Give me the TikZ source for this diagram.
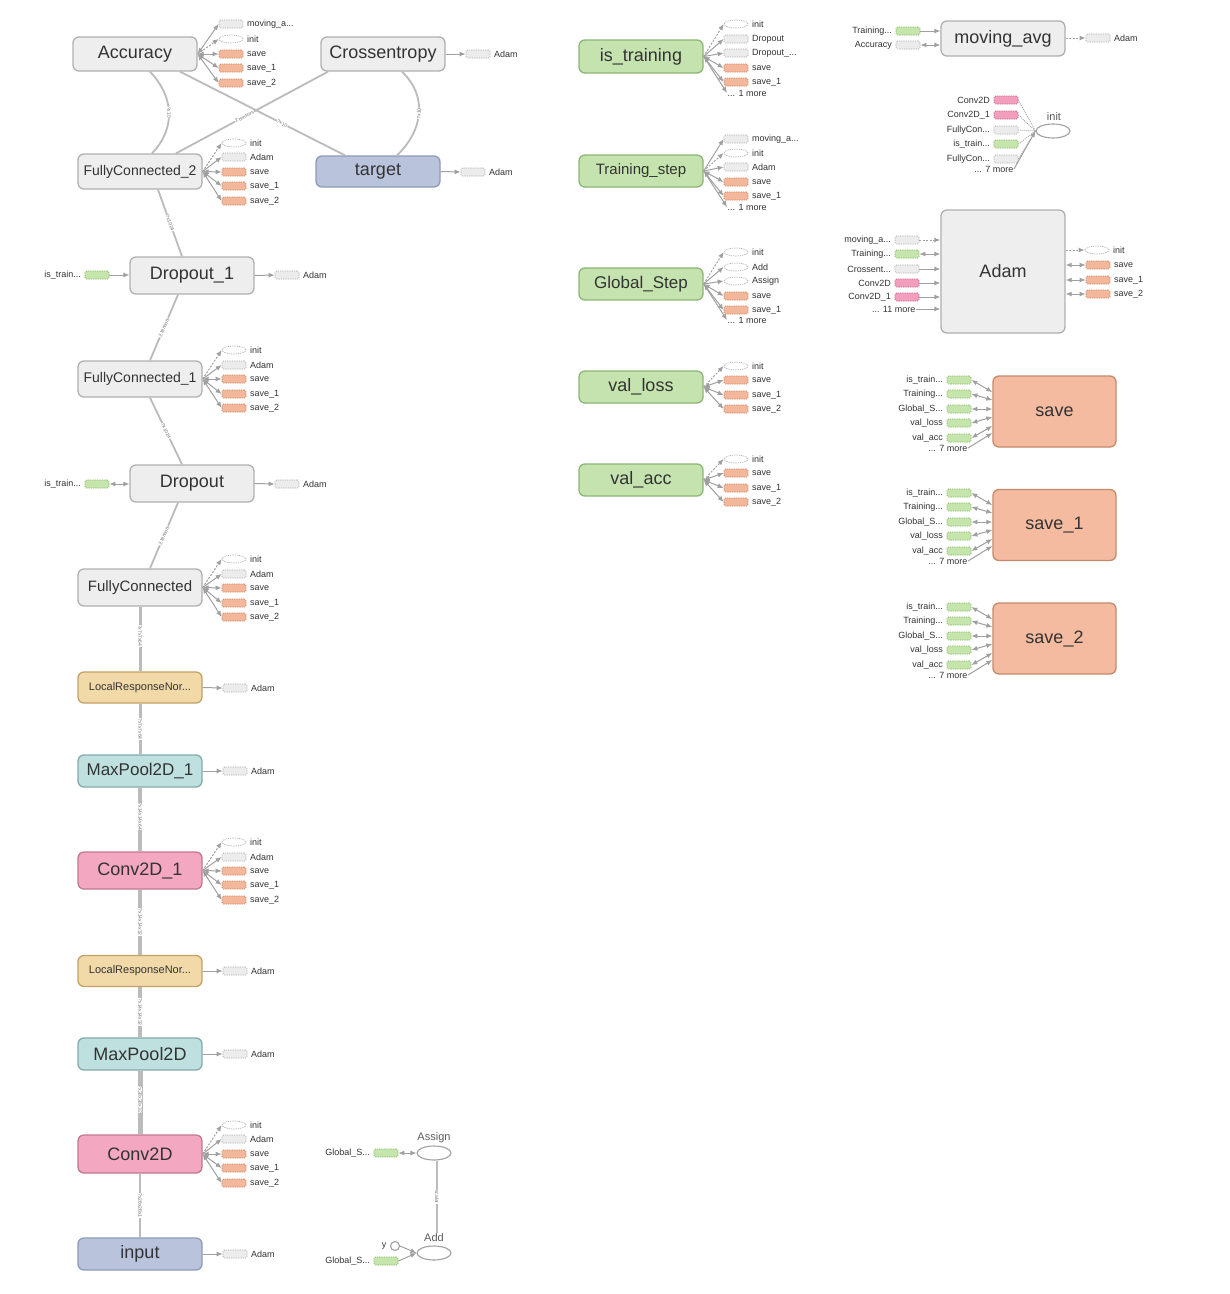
\documentclass[tikz,border=0pt]{standalone}
\usepackage{fontspec}
\setmainfont{Liberation Sans}
\usetikzlibrary{arrows.meta,shapes.geometric,calc}
\definecolor{ngray}{HTML}{EEEEEE}
\definecolor{bgray}{HTML}{B0B0B0}
\definecolor{nblue}{HTML}{B9C3DC}
\definecolor{bblue}{HTML}{8E9AB8}
\definecolor{ngreen}{HTML}{C5E3AE}
\definecolor{bgreen}{HTML}{8DB575}
\definecolor{nlrn}{HTML}{F2D9A8}
\definecolor{blrn}{HTML}{C2A266}
\definecolor{npool}{HTML}{BEE0DF}
\definecolor{bpool}{HTML}{84AAA9}
\definecolor{nconv}{HTML}{F3A7C1}
\definecolor{bconv}{HTML}{C27892}
\definecolor{nsave}{HTML}{F4BBA0}
\definecolor{bsave}{HTML}{C58A6C}
\definecolor{sgray}{HTML}{ECECEC}
\definecolor{sgrayb}{HTML}{B0B0B0}
\definecolor{ssal}{HTML}{F3B89B}
\definecolor{ssalb}{HTML}{D0825E}
\definecolor{sgr}{HTML}{C6E5AD}
\definecolor{sgrb}{HTML}{84B860}
\definecolor{spk}{HTML}{F29FBD}
\definecolor{spkb}{HTML}{D05F88}
\definecolor{txt}{HTML}{333333}
\definecolor{arrc}{HTML}{A0A0A0}
\definecolor{edgec}{HTML}{BBBBBB}
\newcount\sc
\newcommand{\annR}[6]{%
  \global\advance\sc by 1
  \node[#2] (s\the\sc) at (#4,#5) {};
  \node[lbl,anchor=west] (t\the\sc) at ([xshift=3pt]s\the\sc.east) {#6};
  \draw[#3] (#1.east) -- (s\the\sc.west);}
\newcommand{\annRH}[6]{%
  \global\advance\sc by 1
  \node[#2] (s\the\sc) at (#4,#5) {};
  \node[lbl,anchor=west] (t\the\sc) at ([xshift=3pt]s\the\sc.east) {#6};
  \coordinate (c\the\sc) at (#1.east |- 0,#5);
  \draw[#3] (c\the\sc) -- (s\the\sc.west);}
\newcommand{\annL}[7]{%
  \global\advance\sc by 1
  \node[#2] (s\the\sc) at (#4,#5) {};
  \node[lbl,anchor=east] (t\the\sc) at ([xshift=-3pt]s\the\sc.west) {#7};
  \coordinate (c\the\sc) at (#1.west |- 0,#6);
  \draw[#3] (s\the\sc.east) -- (c\the\sc);}
\newcommand{\annMR}[4]{%
  \global\advance\sc by 1
  \node[lbl,anchor=west] (t\the\sc) at (#2,#3) {#4};
  \draw[uni] (#1.east) -- (t\the\sc.west);}
\newcommand{\annML}[5]{%
  \global\advance\sc by 1
  \node[lbl,anchor=east] (t\the\sc) at (#2,#3) {#5};
  \coordinate (c\the\sc) at (#1.west |- 0,#4);
  \draw[uni] (t\the\sc.east) -- (c\the\sc);}
\begin{document}
\begin{tikzpicture}[x=1pt,y=-1pt,
  mainbox/.style={draw=bgray, fill=ngray, rounded corners=6pt, line width=1.3pt,
    minimum width=124pt, inner sep=0pt, text=txt, font=\fontsize{18}{20}\selectfont},
  bluebox/.style={fill=nblue, draw=bblue},
  greenbox/.style={fill=ngreen, draw=bgreen},
  lrnbox/.style={fill=nlrn, draw=blrn},
  poolbox/.style={fill=npool, draw=bpool},
  convbox/.style={fill=nconv, draw=bconv},
  savebox/.style={fill=nsave, draw=bsave, minimum width=123pt, minimum height=71pt},
  stub/.style={rounded corners=1.5pt, minimum width=24pt, minimum height=8pt, inner sep=0pt,
    line width=0.7pt, dash pattern=on 1.3pt off 1pt},
  gstub/.style={stub, fill=sgray, draw=sgrayb},
  sstub/.style={stub, fill=ssal, draw=ssalb},
  grstub/.style={stub, fill=sgr, draw=sgrb},
  pstub/.style={stub, fill=spk, draw=spkb},
  istub/.style={ellipse, minimum width=24pt, minimum height=8pt, inner sep=0pt, draw=sgrayb,
    line width=0.7pt, dash pattern=on 1.3pt off 1pt},
  arr/.style={draw=arrc, line width=1pt},
  uni/.style={arr, -{Latex[length=6pt,width=5pt]}},
  bi/.style={arr, {Latex[length=6pt,width=5pt]}-{Latex[length=6pt,width=5pt]}},
  dsh/.style={uni, dash pattern=on 2pt off 1.5pt},
  dotl/.style={arr, line width=0.8pt, dash pattern=on 1pt off 1pt},
  lbl/.style={font=\fontsize{9}{10}\selectfont, text=txt, inner sep=0.5pt},
  olbl/.style={font=\fontsize{11}{12}\selectfont, text=txt!80, inner sep=0.5pt},
  oval/.style={ellipse, draw=arrc, line width=1.1pt, minimum width=34pt, minimum height=14pt, inner sep=0pt},
  medge/.style={draw=edgec, line width=1.8pt},
  elabel/.style={font=\fontsize{5}{6}\selectfont, text=black!55, sloped, fill=white, inner sep=0.3pt}
]
\fill[white] (0,0) rectangle (1230,1294);
\useasboundingbox (0,0) rectangle (1230,1294);

% ---------- main column ----------
\node[mainbox, minimum height=34pt] (acc) at (135,54) {Accuracy};
\node[mainbox, minimum height=34pt] (xent) at (383,54) {Crossentropy};
\node[mainbox, minimum height=35pt, font=\fontsize{14}{16}\selectfont] (fc2) at (140,171.5) {FullyConnected\_2};
\node[mainbox, bluebox, minimum height=31pt] (target) at (378,171.5) {target};
\node[mainbox, minimum height=37pt] (do1) at (192,275.5) {Dropout\_1};
\node[mainbox, minimum height=36pt, font=\fontsize{14}{16}\selectfont] (fc1) at (140,379) {FullyConnected\_1};
\node[mainbox, minimum height=37pt] (do) at (192,483.5) {Dropout};
\node[mainbox, minimum height=37pt, font=\fontsize{15}{17}\selectfont] (fc) at (140,587.5) {FullyConnected};
\node[mainbox, lrnbox, minimum height=31pt, font=\fontsize{11}{13}\selectfont] (lrn1) at (140,687.5) {LocalResponseNor...};
\node[mainbox, poolbox, minimum height=32pt, font=\fontsize{17}{19}\selectfont] (mp1) at (140,771) {MaxPool2D\_1};
\node[mainbox, convbox, minimum height=37pt] (cv1) at (140,870.5) {Conv2D\_1};
\node[mainbox, lrnbox, minimum height=31pt, font=\fontsize{11}{13}\selectfont] (lrn2) at (140,971) {LocalResponseNor...};
\node[mainbox, poolbox, minimum height=32pt] (mp) at (140,1054) {MaxPool2D};
\node[mainbox, convbox, minimum height=38pt] (cv) at (140,1154) {Conv2D};
\node[mainbox, bluebox, minimum height=32pt] (inp) at (140,1254) {input};

% ---------- second column ----------
\node[mainbox, greenbox, minimum height=33pt] (istr) at (641,56.5) {is\_training};
\node[mainbox, greenbox, minimum height=32pt, font=\fontsize{15}{17}\selectfont] (tstep) at (641,171) {Training\_step};
\node[mainbox, greenbox, minimum height=32pt, font=\fontsize{17}{19}\selectfont] (gstep) at (641,284) {Global\_Step};
\node[mainbox, greenbox, minimum height=32pt] (vloss) at (641,387) {val\_loss};
\node[mainbox, greenbox, minimum height=32pt] (vacc) at (641,480) {val\_acc};

% ---------- third column ----------
\node[mainbox, minimum height=35pt] (mavg) at (1003,38.5) {moving\_avg};
\node[oval] (initE) at (1053,131) {};
\node[olbl] (initT) at (1054,117) {init};
\node[mainbox, minimum height=123pt] (adam) at (1003,271.5) {Adam};
\node[mainbox, savebox] (save) at (1054.5,411.5) {save};
\node[mainbox, savebox] (save1) at (1054.5,525) {save\_1};
\node[mainbox, savebox] (save2) at (1054.5,638.5) {save\_2};

% ---------- bottom ----------
\node[oval] (assign) at (434,1153) {};
\node[olbl] (assignT) at (434,1138) {Assign};
\node[oval] (add) at (434,1253) {};
\node[olbl] (addT) at (434,1238) {Add};
\node[circle, draw=arrc, line width=1.1pt, minimum size=9pt, inner sep=0pt] (ycirc) at (395,1246) {};
\node[lbl, anchor=east] (yT) at ([xshift=-3pt]ycirc.west) {y};

% ---------- main edges ----------
\draw[medge] ([xshift=15pt]acc.south) .. controls +(24,25) and +(24,-25) .. ([xshift=12pt]fc2.north)
  node[elabel, pos=0.5] {?x10};
\draw[medge] ([xshift=19pt]xent.south) .. controls +(26,25) and +(26,-25) .. ([xshift=19pt]target.north)
  node[elabel, pos=0.5] {?x10};
\draw[medge] ([xshift=45pt]acc.south) -- ([xshift=-33pt]target.north) node[elabel, pos=0.62] {?x10};
\draw[medge] ([xshift=36pt]fc2.north) -- ([xshift=-55pt]xent.south) node[elabel, pos=0.45] {2 tensors};
\draw[medge] ([xshift=18pt]fc2.south) -- ([xshift=-10pt]do1.north) node[elabel, pos=0.5] {?x1024};
\draw[medge] ([xshift=-14pt]do1.south) -- ([xshift=10pt]fc1.north) node[elabel, pos=0.5] {2 tensors};
\draw[medge] ([xshift=10pt]fc1.south) -- ([xshift=-10pt]do.north) node[elabel, pos=0.5] {?x1024};
\draw[medge] ([xshift=-14pt]do.south) -- ([xshift=10pt]fc.north) node[elabel, pos=0.5] {2 tensors};
\draw[medge, line width=3pt] (fc.south) -- (lrn1.north) node[elabel, pos=0.45] {?x7x7x64};
\draw[medge, line width=3pt] (lrn1.south) -- (mp1.north) node[elabel, pos=0.5] {?x7x7x64};
\draw[medge, line width=4.5pt] (mp1.south) -- (cv1.north) node[elabel, pos=0.45] {?x14x14x64};
\draw[medge, line width=3.5pt] (cv1.south) -- (lrn2.north) node[elabel, pos=0.5] {?x14x14x32};
\draw[medge, line width=3.5pt] (lrn2.south) -- (mp.north) node[elabel, pos=0.5] {?x14x14x32};
\draw[medge, line width=5pt] (mp.south) -- (cv.north) node[elabel, pos=0.45] {?x28x28x32};
\draw[medge, line width=2.2pt] (cv.south) -- (inp.north) node[elabel, pos=0.5] {?x28x28x1};
\draw[medge, line width=1.3pt] ([xshift=3pt]assign.south) -- ([xshift=3pt]addT.north) node[elabel, pos=0.5] {scalar};

% ---------- annotations: main column ----------
\annR{acc}{gstub}{bi}{231}{24}{moving\_a...}
\annR{acc}{istub}{dsh}{231}{39}{init}
\annR{acc}{sstub}{bi}{231}{54}{save}
\annR{acc}{sstub}{bi}{231}{68}{save\_1}
\annR{acc}{sstub}{bi}{231}{83}{save\_2}
\annR{xent}{gstub}{uni}{478}{54}{Adam}

\annR{fc2}{istub}{dsh}{234}{143}{init}
\annR{fc2}{gstub}{uni}{234}{157}{Adam}
\annR{fc2}{sstub}{bi}{234}{172}{save}
\annR{fc2}{sstub}{bi}{234}{186}{save\_1}
\annR{fc2}{sstub}{bi}{234}{201}{save\_2}
\annR{target}{gstub}{uni}{473}{172}{Adam}

\annR{do1}{gstub}{uni}{287}{275}{Adam}
\annL{do1}{grstub}{uni}{97}{275}{275}{is\_train...}

\annR{fc1}{istub}{dsh}{234}{350}{init}
\annR{fc1}{gstub}{uni}{234}{365}{Adam}
\annR{fc1}{sstub}{bi}{234}{379}{save}
\annR{fc1}{sstub}{bi}{234}{394}{save\_1}
\annR{fc1}{sstub}{bi}{234}{408}{save\_2}

\annR{do}{gstub}{uni}{287}{484}{Adam}
\annL{do}{grstub}{bi}{97}{484}{484}{is\_train...}

\annR{fc}{istub}{dsh}{234}{559}{init}
\annR{fc}{gstub}{uni}{234}{574}{Adam}
\annR{fc}{sstub}{bi}{234}{588}{save}
\annR{fc}{sstub}{bi}{234}{603}{save\_1}
\annR{fc}{sstub}{bi}{234}{617}{save\_2}

\annR{lrn1}{gstub}{uni}{235}{688}{Adam}
\annR{mp1}{gstub}{uni}{235}{771}{Adam}

\annR{cv1}{istub}{dsh}{234}{842}{init}
\annR{cv1}{gstub}{uni}{234}{857}{Adam}
\annR{cv1}{sstub}{bi}{234}{871}{save}
\annR{cv1}{sstub}{bi}{234}{885}{save\_1}
\annR{cv1}{sstub}{bi}{234}{900}{save\_2}

\annR{lrn2}{gstub}{uni}{235}{971}{Adam}
\annR{mp}{gstub}{uni}{235}{1054}{Adam}

\annR{cv}{istub}{dsh}{234}{1125}{init}
\annR{cv}{gstub}{uni}{234}{1139}{Adam}
\annR{cv}{sstub}{bi}{234}{1154}{save}
\annR{cv}{sstub}{bi}{234}{1168}{save\_1}
\annR{cv}{sstub}{bi}{234}{1183}{save\_2}

\annR{inp}{gstub}{uni}{235}{1254}{Adam}

% ---------- annotations: second column ----------
\annR{istr}{istub}{dsh}{736}{24}{init}
\annR{istr}{gstub}{uni}{736}{39}{Dropout}
\annR{istr}{gstub}{uni}{736}{53}{Dropout\_...}
\annR{istr}{sstub}{bi}{736}{68}{save}
\annR{istr}{sstub}{bi}{736}{82}{save\_1}
\annMR{istr}{727}{93}{... 1 more}

\annR{tstep}{gstub}{uni}{736}{139}{moving\_a...}
\annR{tstep}{istub}{dsh}{736}{153}{init}
\annR{tstep}{gstub}{uni}{736}{167}{Adam}
\annR{tstep}{sstub}{bi}{736}{182}{save}
\annR{tstep}{sstub}{bi}{736}{196}{save\_1}
\annMR{tstep}{727}{207}{... 1 more}

\annR{gstep}{istub}{dsh}{736}{252}{init}
\annR{gstep}{istub}{uni}{736}{267}{Add}
\annR{gstep}{istub}{uni}{736}{281}{Assign}
\annR{gstep}{sstub}{bi}{736}{296}{save}
\annR{gstep}{sstub}{bi}{736}{310}{save\_1}
\annMR{gstep}{727}{320}{... 1 more}

\annR{vloss}{istub}{dsh}{736}{366}{init}
\annR{vloss}{sstub}{bi}{736}{380}{save}
\annR{vloss}{sstub}{bi}{736}{395}{save\_1}
\annR{vloss}{sstub}{bi}{736}{409}{save\_2}

\annR{vacc}{istub}{dsh}{736}{459}{init}
\annR{vacc}{sstub}{bi}{736}{473}{save}
\annR{vacc}{sstub}{bi}{736}{488}{save\_1}
\annR{vacc}{sstub}{bi}{736}{502}{save\_2}

% ---------- annotations: third column ----------
\annL{mavg}{grstub}{uni}{908}{31}{31}{Training...}
\annL{mavg}{gstub}{bi}{908}{45}{45}{Accuracy}
\annRH{mavg}{gstub}{dsh}{1098}{38}{Adam}

\annL{initE}{pstub}{dotl}{1006}{100}{131}{Conv2D}
\annL{initE}{pstub}{dotl}{1006}{115}{131}{Conv2D\_1}
\annL{initE}{gstub}{dotl}{1006}{130}{131}{FullyCon...}
\annL{initE}{grstub}{dotl}{1006}{144}{131}{is\_train...}
\annL{initE}{gstub}{dotl}{1006}{159}{131}{FullyCon...}
\annML{initE}{1014}{169}{131}{... 7 more}

\annL{adam}{gstub}{dsh}{907}{240}{240}{moving\_a...}
\annL{adam}{grstub}{bi}{907}{254}{254}{Training...}
\annL{adam}{gstub}{uni}{907}{269}{269}{Crossent...}
\annL{adam}{pstub}{uni}{907}{283}{283}{Conv2D}
\annL{adam}{pstub}{uni}{907}{297}{297}{Conv2D\_1}
\annML{adam}{916}{309}{309}{... 11 more}
\annRH{adam}{istub}{dsh}{1097}{250}{init}
\annRH{adam}{sstub}{bi}{1098}{265}{save}
\annRH{adam}{sstub}{bi}{1098}{280}{save\_1}
\annRH{adam}{sstub}{bi}{1098}{294}{save\_2}

\annL{save}{grstub}{bi}{959}{380}{392}{is\_train...}
\annL{save}{grstub}{bi}{959}{394}{400}{Training...}
\annL{save}{grstub}{bi}{959}{409}{409}{Global\_S...}
\annL{save}{grstub}{bi}{959}{423}{417}{val\_loss}
\annL{save}{grstub}{bi}{959}{438}{426}{val\_acc}
\annML{save}{968}{448}{433}{... 7 more}

\annL{save1}{grstub}{bi}{959}{493}{505}{is\_train...}
\annL{save1}{grstub}{bi}{959}{507}{513}{Training...}
\annL{save1}{grstub}{bi}{959}{522}{522}{Global\_S...}
\annL{save1}{grstub}{bi}{959}{536}{530}{val\_loss}
\annL{save1}{grstub}{bi}{959}{551}{539}{val\_acc}
\annML{save1}{968}{561}{546}{... 7 more}

\annL{save2}{grstub}{bi}{959}{607}{619}{is\_train...}
\annL{save2}{grstub}{bi}{959}{621}{627}{Training...}
\annL{save2}{grstub}{bi}{959}{636}{636}{Global\_S...}
\annL{save2}{grstub}{bi}{959}{650}{644}{val\_loss}
\annL{save2}{grstub}{bi}{959}{665}{653}{val\_acc}
\annML{save2}{968}{675}{660}{... 7 more}

% ---------- bottom group ----------
\annL{assign}{grstub}{bi}{386}{1153}{1153}{Global\_S...}
\annL{add}{grstub}{uni}{386}{1261}{1253}{Global\_S...}
\draw[uni] (ycirc.east) -- (add.west);
\end{tikzpicture}
\end{document}
